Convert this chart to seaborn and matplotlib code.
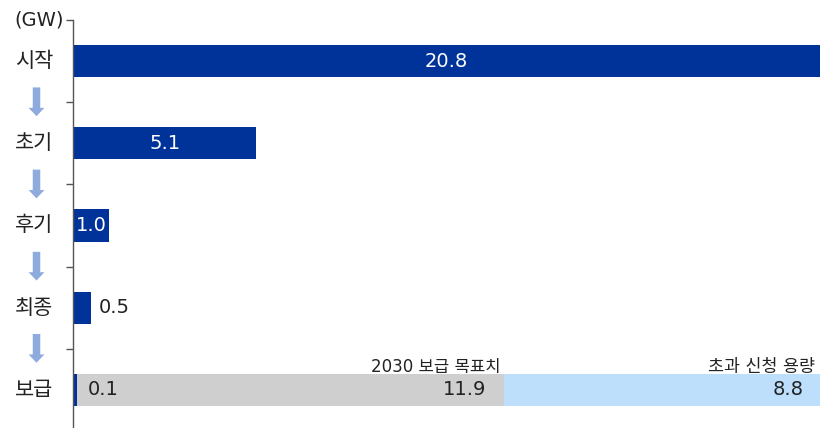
import matplotlib
matplotlib.use("Agg")
import matplotlib.pyplot as plt
import seaborn as sns
import pandas as pd

# data
stages = ['시작', '초기', '후기', '최종', '보급']
capacity = [20.8, 5.1, 1.0, 0.5, 0.1]
target_2030 = 11.9      # 2030 보급 목표치 (stacked after 보급)
excess = 8.8            # 초과 신청 용량
seg_labels = ['2030 보급 목표치', '초과 신청 용량']

sns.set_theme(style="white")
plt.rcParams['font.family'] = ['Noto Sans CJK KR', 'DejaVu Sans']
num_font = ['DejaVu Sans', 'Noto Sans CJK KR']

dark_blue = '#00339A'
gray = '#CFCFCF'
light_blue = '#BDDFFB'
arrow_col = '#8FAADC'
text_col = '#222222'

fig = plt.figure(figsize=(8.25, 4.28), dpi=100)
ax = fig.add_axes([73 / 825, 1 - 431 / 428, (820 - 73) / 825, 411 / 428])

df = pd.DataFrame({'stage': stages, 'GW': capacity})
sns.barplot(data=df, x='GW', y='stage', orient='h', color=dark_blue,
            width=0.39, linewidth=0, saturation=1, ax=ax)

# stacked segments on 보급 row
last = len(stages) - 1
ax.barh(last, target_2030, left=capacity[-1], height=0.39, color=gray, linewidth=0)
ax.barh(last, excess, left=capacity[-1] + target_2030, height=0.39,
        color=light_blue, linewidth=0)

ax.set_xlim(0, 20.8)
ax.set_ylim(len(stages) - 0.5, -0.5)
ax.set_xticks([])
ax.set_yticks([i - 0.5 for i in range(len(stages))])
ax.set_yticklabels([])
ax.set_xlabel('')
ax.set_ylabel('')
ax.tick_params(axis='y', length=5, width=1, color='#555555', left=True)
for s in ['top', 'right', 'bottom']:
    ax.spines[s].set_visible(False)
ax.spines['left'].set_color('#555555')
ax.spines['left'].set_linewidth(1)

# value labels
fs = 14
for i, v in enumerate(capacity[:3]):
    ax.text(v / 2, i, f'{v:.1f}', color='white', ha='center', va='center',
            fontsize=fs, family=num_font)
ax.text(capacity[3] + 0.22, 3, f'{capacity[3]:.1f}', color=text_col, ha='left',
        va='center', fontsize=fs, family=num_font)
ax.text(capacity[4] + 0.3, 4, f'{capacity[4]:.1f}', color=text_col, ha='left',
        va='center', fontsize=fs, family=num_font)
end_gray = capacity[-1] + target_2030
ax.text(end_gray - 0.5, 4, f'{target_2030:.1f}', color=text_col, ha='right',
        va='center', fontsize=fs, family=num_font)
ax.text(end_gray + excess - 0.45, 4, f'{excess:.1f}', color=text_col, ha='right',
        va='center', fontsize=fs, family=num_font)
ax.text(end_gray - 0.1, 3.83, seg_labels[0], color=text_col, ha='right',
        va='bottom', fontsize=12, family=num_font)
ax.text(end_gray + excess - 0.15, 3.83, seg_labels[1], color=text_col, ha='right',
        va='bottom', fontsize=12.5, family=num_font)

# stage labels and arrows on the left
lx = 34 / 825
for i, s in enumerate(stages):
    ax.annotate(s, xy=(lx, i), xycoords=('figure fraction', 'data'),
                ha='center', va='center', fontsize=15, color=text_col)
for i in range(len(stages) - 1):
    ax.annotate('', xy=(36.5 / 825, i + 0.5 + 0.17), xytext=(36.5 / 825, i + 0.5 - 0.18),
                xycoords=('figure fraction', 'data'),
                textcoords=('figure fraction', 'data'),
                arrowprops=dict(arrowstyle='simple,head_length=0.5,head_width=0.95,tail_width=0.45',
                                color=arrow_col, lw=0, shrinkA=0, shrinkB=0))
ax.annotate('(GW)', xy=(64 / 825, -0.5), xycoords=('figure fraction', 'data'),
            ha='right', va='center', fontsize=14, color=text_col, family=num_font)

fig.savefig('out.png', dpi=100)
